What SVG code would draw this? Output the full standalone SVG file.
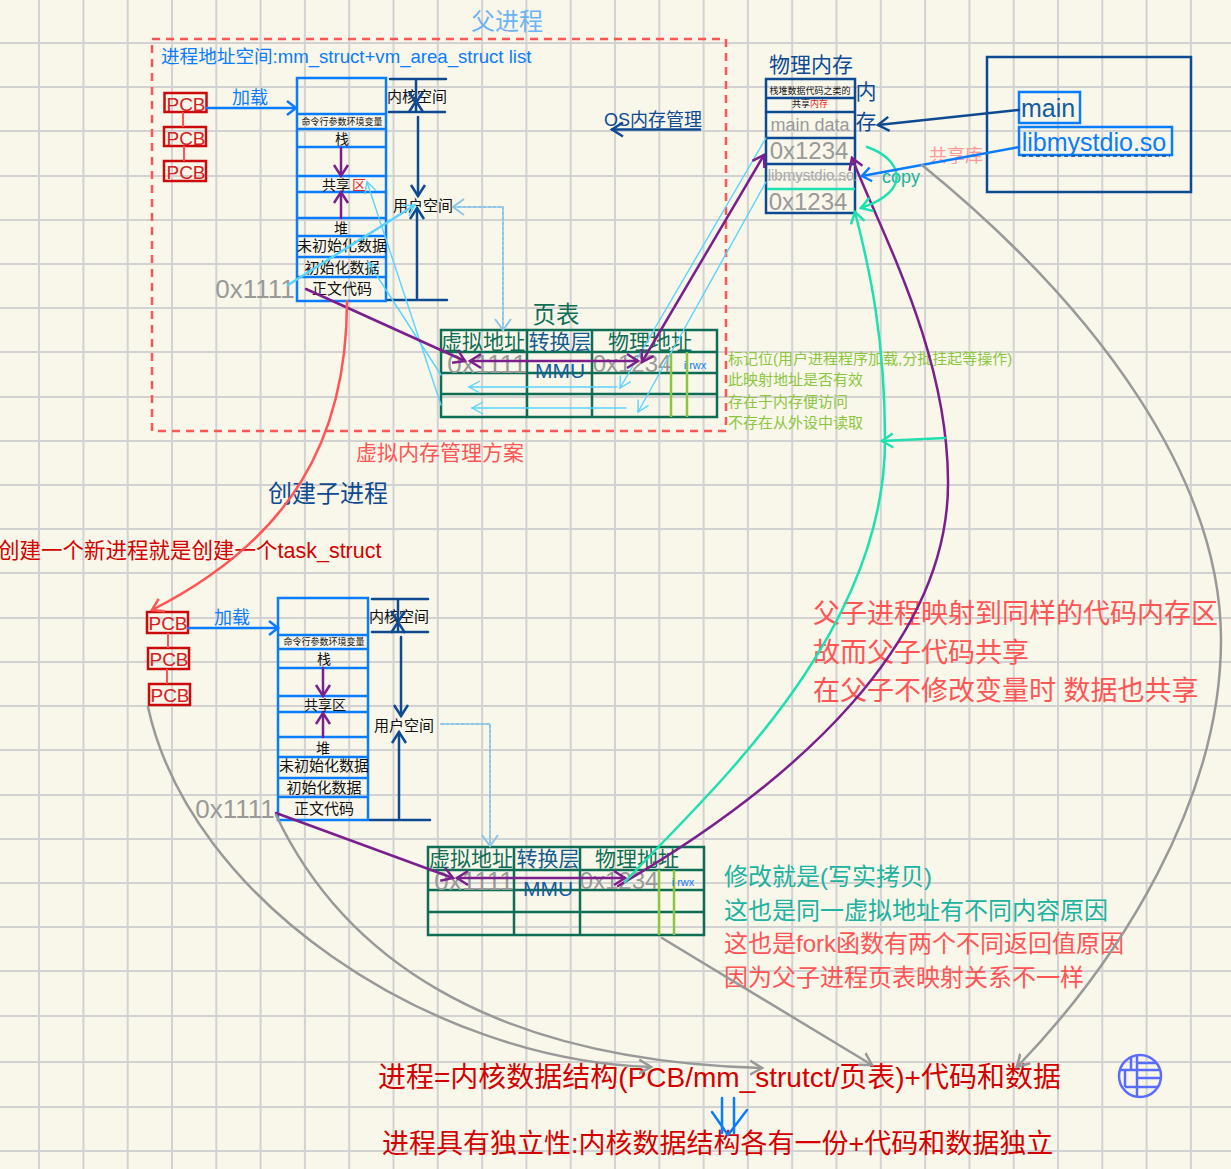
<svg xmlns="http://www.w3.org/2000/svg" width="1231" height="1169" viewBox="0 0 1231 1169">
<style>
text{font-family:"Liberation Sans","Noto Sans CJK SC",sans-serif;text-anchor:middle}
.l{text-anchor:start}
.c{fill:none;stroke-linecap:round;stroke-linejoin:round}
.blue{stroke:#0a7cff;stroke-width:2.500}
.dark{stroke:#0d4a92;stroke-width:2.500}
.pur{stroke:#7b1f8c;stroke-width:2.500}
.red{stroke:#f55;stroke-width:2.500}
.grey{stroke:#999;stroke-width:2.500}
.teal{stroke:#1ee0b0;stroke-width:2.500}
.cy{stroke:#5ad4ff;stroke-width:1.400}
.dot{stroke:#8ec5e6;stroke-width:2;stroke-dasharray:3 2}
.box{fill:none;stroke:#0a7cff;stroke-width:2.500}
.pcb{fill:none;stroke:#cc0a0a;stroke-width:2.500}
.pt{font-size:19px;fill:#d42020}
.tb{fill:none;stroke:#0d6e55;stroke-width:2.500}
.gl{stroke:#8cc63f;stroke-width:2.500}
.g{fill:#999}
.k{fill:#111}
.dg{fill:#0d6e55}
.db{fill:#0d4a92}
.bl{fill:#0a7cff}
.rd{fill:#f55}
.tl{fill:#20b2a0}
.gr{fill:#8cc63f;font-size:15px}
.cr{fill:#d40000}
</style>
<defs>
<marker id="mb" markerUnits="userSpaceOnUse" markerWidth="24" markerHeight="24" refX="12" refY="12" orient="auto-start-reverse"><path d="M3,5L12,12L3,19" fill="none" stroke="#0a7cff" stroke-width="2.500"/></marker>
<marker id="md" markerUnits="userSpaceOnUse" markerWidth="24" markerHeight="24" refX="12" refY="12" orient="auto-start-reverse"><path d="M1,5L12,12L1,19" fill="none" stroke="#0d4a92" stroke-width="2.500"/></marker>
<marker id="mp" markerUnits="userSpaceOnUse" markerWidth="24" markerHeight="24" refX="12" refY="12" orient="auto-start-reverse"><path d="M1,5L12,12L1,19" fill="none" stroke="#7b1f8c" stroke-width="2.500"/></marker>
<marker id="mr" markerUnits="userSpaceOnUse" markerWidth="24" markerHeight="24" refX="12" refY="12" orient="auto-start-reverse"><path d="M1,5L12,12L1,19" fill="none" stroke="#f55" stroke-width="2.500"/></marker>
<marker id="mg" markerUnits="userSpaceOnUse" markerWidth="24" markerHeight="24" refX="12" refY="12" orient="auto-start-reverse"><path d="M0,5L12,12L0,19" fill="none" stroke="#999" stroke-width="2.500"/></marker>
<marker id="mt" markerUnits="userSpaceOnUse" markerWidth="24" markerHeight="24" refX="12" refY="12" orient="auto-start-reverse"><path d="M1,5L12,12L1,19" fill="none" stroke="#1ee0b0" stroke-width="2.500"/></marker>
<marker id="mc" markerUnits="userSpaceOnUse" markerWidth="24" markerHeight="24" refX="12" refY="12" orient="auto-start-reverse"><path d="M1,6L12,12L1,18" fill="none" stroke="#5ad4ff" stroke-width="1.400"/></marker>
<marker id="mo" markerUnits="userSpaceOnUse" markerWidth="24" markerHeight="24" refX="12" refY="12" orient="auto-start-reverse"><path d="M1,4L12,12L1,20" fill="none" stroke="#8ec5e6" stroke-width="2"/></marker>
<clipPath id="gc"><circle cx="1140" cy="1076" r="21"/></clipPath>
</defs>
<rect width="1231" height="1169" fill="#f9f7ea"/>
<g id="grid" fill="none" stroke="#d2d2d2" stroke-width="2">
<path d="M39,0V1169M83.4,0V1169M127.7,0V1169M172,0V1169M216.3,0V1169M260.6,0V1169M304.9,0V1169M349.2,0V1169M393.5,0V1169M437.8,0V1169M482.1,0V1169M526.4,0V1169M570.7,0V1169M615,0V1169M659.3,0V1169M703.6,0V1169M747.9,0V1169M792.2,0V1169M836.5,0V1169M880.8,0V1169M925.1,0V1169M969.4,0V1169M1013.7,0V1169M1058,0V1169M1102.3,0V1169M1146.6,0V1169M1190.9,0V1169"/>
<path d="M0,43H1231M0,87H1231M0,131H1231M0,176H1231M0,220H1231M0,264H1231M0,308H1231M0,352H1231M0,397H1231M0,441H1231M0,485H1231M0,529H1231M0,573H1231M0,618H1231M0,662H1231M0,706H1231M0,750H1231M0,795H1231M0,839H1231M0,883H1231M0,927H1231M0,971H1231M0,1016H1231M0,1062H1231M0,1107H1231M0,1151H1231"/>
</g>
<g id="parent-frame">
<rect x="152" y="39" width="574" height="392" fill="none" stroke="#f55" stroke-width="2.500" stroke-dasharray="8 6"/>
<text x="507" y="30" font-size="24" fill="#6cb4f5">父进程</text>
<text class="l bl" x="161" y="63" font-size="18.600">进程地址空间:mm_struct+vm_area_struct list</text>
<text x="653" y="126" font-size="18" class="db">OS内存管理</text>
<text x="440" y="460" font-size="21" class="rd">虚拟内存管理方案</text>
</g>
<g id="pcb-top">
<rect class="pcb" x="164.500" y="93" width="42" height="19"/><rect class="pcb" x="164" y="127" width="42" height="19"/><rect class="pcb" x="164" y="161" width="42" height="20"/>
<path d="M183,112V127M184,146V161" stroke="#f55" stroke-width="2"/>
<text class="pt" x="186" y="111">PCB</text><text class="pt" x="186" y="145">PCB</text><text class="pt" x="186" y="179">PCB</text>
<text class="bl" x="250" y="104" font-size="18">加载</text>
</g>
<g id="stack-top">
<rect class="box" x="297" y="78" width="89" height="223"/>
<path class="box" d="M297,114H386M297,129H386M297,147H386M297,176H386M297,192H386M297,218H386M297,236H386M297,257H386M297,277H386"/>
<text x="342" y="125" font-size="9" class="k">命令行参数环境变量</text>
<text x="342" y="144" font-size="14" class="k">栈</text>
<text x="336" y="190" font-size="14" class="k">共享</text>
<rect x="352" y="178" width="13" height="12" fill="#fff" opacity=".5"/><text x="359" y="190" font-size="14" fill="#e22">区</text>
<text x="341" y="233" font-size="14" class="k">堆</text>
<text x="342" y="251" font-size="15" class="k">未初始化数据</text>
<text x="342" y="273" font-size="15" class="k">初始化数据</text>
<text x="342" y="294" font-size="15" class="k">正文代码</text>
<text x="255" y="298" font-size="26" class="g">0x1111</text>
</g>
<g id="space-top">
<text x="417" y="102" font-size="15" class="k">内核空间</text>
<text x="423" y="211" font-size="15" class="k">用户空间</text>
</g>
<g id="pagetable-top">
<text x="556" y="323" font-size="23.500" class="dg">页表</text>
<rect class="tb" x="441" y="330" width="276" height="87"/>
<path class="tb" d="M441,352H717M441,373H717M441,394H717M527,330V417M592,330V417"/>
<path class="gl" d="M671,352V417M687,352V417"/>
<text x="483" y="349" font-size="21" class="dg">虚拟地址</text>
<text x="560" y="349" font-size="21" fill="#145c8e">转换层</text>
<text x="650" y="349" font-size="21" class="dg">物理地址</text>
<text x="487" y="373" font-size="26" class="g">0x1111</text>
<text x="632" y="372" font-size="24" class="g">0x1234</text>
<text x="560" y="378" font-size="21" fill="#145c9e">MMU</text>
<text x="695" y="369" font-size="11" class="bl">i rwx</text>
</g>
<g id="notes-top">
<text class="l gr" x="728" y="364">标记位(用户进程程序加载,分批挂起等操作)</text>
<text class="l gr" x="728" y="385">此映射地址是否有效</text>
<text class="l gr" x="728" y="407">存在于内存便访问</text>
<text class="l gr" x="728" y="428">不存在从外设中读取</text>
</g>
<g id="physical-memory">
<text x="811" y="72" font-size="21" class="db">物理内存</text>
<rect x="766" y="79" width="89" height="134" fill="none" stroke="#0d4a92" stroke-width="2.500"/>
<path d="M766,98H855M766,112H855M766,138H855M766,164H855" stroke="#0d4a92" stroke-width="2.500"/>
<path d="M767,189H855" stroke="#1ee0b0" stroke-width="2.500"/>
<path d="M768,180H856" stroke="#999" stroke-width="1" stroke-dasharray="3 2"/>
<text x="810" y="94" font-size="9" class="k">栈堆数据代码之类的</text>
<text x="810" y="107" font-size="9"><tspan class="k">共享</tspan><tspan fill="#e22">内存</tspan></text>
<text x="810" y="131" font-size="18" class="g">main data</text>
<text x="809" y="159" font-size="24" class="g">0x1234</text>
<text x="811" y="180" font-size="15" fill="#aaa">libmystdio.so</text>
<text x="808" y="210" font-size="24" class="g">0x1234</text>
<text x="866" y="99" font-size="21" class="db">内</text>
<text x="866" y="129" font-size="21" class="db">存</text>
</g>
<g id="shared-lib">
<rect x="987" y="57" width="204" height="135" fill="none" stroke="#0d4a92" stroke-width="2.500"/>
<rect class="box" x="1019" y="92" width="61" height="31"/>
<rect class="box" x="1019" y="127" width="153" height="28"/>
<path d="M1022,156H1170" stroke="#0d4a92" stroke-width="1.500" stroke-dasharray="4 3"/>
<text x="1048" y="117" font-size="25" fill="#145c9e">main</text>
<text x="1094" y="151" font-size="25" class="bl">libmystdio.so</text>
<text x="956" y="162" font-size="18" fill="#f99">共享库</text>
<text x="901" y="183" font-size="18" class="tl">copy</text>
</g>
<g id="create-child">
<text x="328" y="502" font-size="24" class="db">创建子进程</text>
<text class="l cr" x="-2" y="558" font-size="21.500">创建一个新进程就是创建一个task_struct</text>
</g>
<g id="pcb-bottom">
<rect class="pcb" x="147" y="612" width="41" height="21"/><rect class="pcb" x="148" y="648" width="41" height="21"/><rect class="pcb" x="149" y="684" width="41" height="21"/>
<path d="M168,633V648M167,669V684" stroke="#f55" stroke-width="2"/>
<text class="pt" x="168" y="630">PCB</text><text class="pt" x="169" y="666">PCB</text><text class="pt" x="170" y="702">PCB</text>
<text class="bl" x="232" y="624" font-size="18">加载</text>
</g>
<g id="stack-bottom">
<rect class="box" x="278" y="598" width="90" height="222"/>
<path class="box" d="M278,635H368M278,649H368M278,668H368M278,696H368M278,712H368M278,737H368M278,757H368M278,778H368M278,797H368"/>
<text x="324" y="645" font-size="9" class="k">命令行参数环境变量</text>
<text x="324" y="664" font-size="14" class="k">栈</text>
<text x="325" y="710" font-size="14" class="k">共享区</text>
<text x="323" y="753" font-size="14" class="k">堆</text>
<text x="324" y="771" font-size="15" class="k">未初始化数据</text>
<text x="324" y="793" font-size="15" class="k">初始化数据</text>
<text x="324" y="814" font-size="15" class="k">正文代码</text>
<text x="235" y="818" font-size="26" class="g">0x1111</text>
</g>
<g id="space-bottom">
<text x="399" y="622" font-size="15" class="k">内核空间</text>
<text x="404" y="731" font-size="15" class="k">用户空间</text>
</g>
<g id="pagetable-bottom">
<rect class="tb" x="428" y="847" width="276" height="88"/>
<path class="tb" d="M428,870H704M428,890H704M428,912H704M514,847V935M580,847V935"/>
<path class="gl" d="M659,870V935M674,870V935"/>
<text x="471" y="866" font-size="21" class="dg">虚拟地址</text>
<text x="548" y="866" font-size="21" fill="#145c8e">转换层</text>
<text x="637" y="866" font-size="21" class="dg">物理地址</text>
<text x="474" y="890" font-size="26" class="g">0x1111</text>
<text x="619" y="889" font-size="24" class="g">0x1234</text>
<text x="548" y="896" font-size="21" fill="#145c9e">MMU</text>
<text x="683" y="886" font-size="11" class="bl">i rwx</text>
</g>
<g id="notes-right">
<text class="l rd" x="813" y="623" font-size="27">父子进程映射到同样的代码内存区</text>
<text class="l rd" x="813" y="662" font-size="27">故而父子代码共享</text>
<text class="l rd" x="813" y="700" font-size="27">在父子不修改变量时 数据也共享</text>
<text class="l tl" x="724" y="885" font-size="24">修改就是(写实拷贝)</text>
<text class="l tl" x="724" y="919" font-size="24">这也是同一虚拟地址有不同内容原因</text>
<text class="l rd" x="724" y="952" font-size="24">这也是fork函数有两个不同返回值原因</text>
<text class="l rd" x="724" y="986" font-size="24">因为父子进程页表映射关系不一样</text>
</g>
<g id="conclusion">
<text class="l cr" x="378" y="1087" font-size="28">进程=内核数据结构(PCB/mm_strutct/页表)+代码和数据</text>
<text class="l cr" x="382" y="1153" font-size="27">进程具有独立性:内核数据结构各有一份+代码和数据独立</text>
</g>
<g id="globe" fill="none" stroke="#5a6cff" stroke-width="2.500">
<circle cx="1140" cy="1076" r="21"/>
<path clip-path="url(#gc)" d="M1137,1063H1161M1119,1070H1161M1137,1078H1161M1125,1087H1161M1131,1055V1070M1125,1070V1087M1137,1055V1098"/>
</g>
<g id="connectors">
<path class="c blue" marker-end="url(#mb)" d="M207,108H296"/>
<path class="c blue" marker-end="url(#mb)" d="M188,628H278"/>
<path class="c dark" d="M390,79H446M389,112H445M388,300H447M372,599H428M372,632H428M370,820H430"/>
<path class="c dark" marker-end="url(#md)" d="M416,80V103"/><path class="c dark" marker-end="url(#md)" d="M416,111V101"/>
<path class="c dark" marker-end="url(#md)" d="M418,117V196"/><path class="c dark" marker-end="url(#md)" d="M417,298V208"/>
<path class="c dark" marker-end="url(#md)" d="M398,600V622"/><path class="c dark" marker-end="url(#md)" d="M398,631V622"/>
<path class="c dark" marker-end="url(#md)" d="M401,637V716"/><path class="c dark" marker-end="url(#md)" d="M399,818V732"/>
<path class="c dark" marker-end="url(#md)" d="M700,129.500H612"/>
<path class="c pur" marker-end="url(#mp)" d="M341,148V176"/><path class="c pur" marker-end="url(#mp)" d="M341,218V192"/>
<path class="c pur" marker-end="url(#mp)" d="M323,668V696"/><path class="c pur" marker-end="url(#mp)" d="M323,737V713"/>
<path class="c dot" marker-start="url(#mo)" marker-end="url(#mo)" d="M453,207H503V330"/>
<path class="c dot" marker-end="url(#mo)" d="M441,724H490V846"/>
<path class="c" stroke="#5ad4ff" stroke-width="2.500" marker-end="url(#mc)" d="M288,285L415,205"/>
<path class="c cy" marker-end="url(#mc)" d="M441,405L367,182"/>
<path class="c cy" marker-end="url(#mc)" d="M441,375L368,262"/>
<path class="c cy" marker-end="url(#mc)" d="M766,138L620,388"/>
<path class="c cy" marker-end="url(#mc)" d="M766,182L638,412"/>
<path class="c cy" marker-end="url(#mc)" d="M617,387H469"/>
<path class="c cy" marker-end="url(#mc)" d="M626,408H472"/>
<path class="c pur" marker-end="url(#mp)" d="M306,289L465,361"/>
<path class="c pur" marker-start="url(#mp)" marker-end="url(#mp)" d="M470,361H638"/>
<path class="c pur" marker-start="url(#mp)" marker-end="url(#mp)" d="M642,362L764,155"/>
<path class="c pur" marker-end="url(#mp)" d="M276,813L453,878"/>
<path class="c pur" marker-start="url(#mp)" marker-end="url(#mp)" d="M457,878H625"/>
<path class="c pur" marker-end="url(#mp)" d="M618,886C800,780 950,640 948,480C947,350 880,230 852,158"/>
<path class="c teal" marker-end="url(#mt)" d="M625,882C700,800 885,640 885,440C885,340 870,270 855,212"/>
<path class="c teal" marker-end="url(#mt)" d="M945,438L882,441"/>
<path class="c teal" marker-end="url(#mt)" d="M867,147C900,158 915,190 861,208"/>
<path class="c dark" marker-end="url(#md)" d="M1019,110L878,125"/>
<path class="c blue" marker-end="url(#mb)" d="M1019,147L862,176"/>
<path class="c red" marker-end="url(#mr)" d="M347,301C347,440 290,540 152,610"/>
<path class="c grey" marker-end="url(#mg)" d="M922,165C1100,310 1221,480 1221,640C1221,800 1120,960 1017,1067"/>
<path class="c grey" marker-end="url(#mg)" d="M148,707C190,900 430,1060 651,1067"/>
<path class="c grey" marker-end="url(#mg)" d="M276,815C340,950 480,1060 762,1068"/>
<path class="c grey" marker-end="url(#mg)" d="M662,938L872,1065"/>
<path class="c blue" d="M722,1098V1133M734,1098V1133M712,1112L728,1135L747,1110"/>
</g>
</svg>
